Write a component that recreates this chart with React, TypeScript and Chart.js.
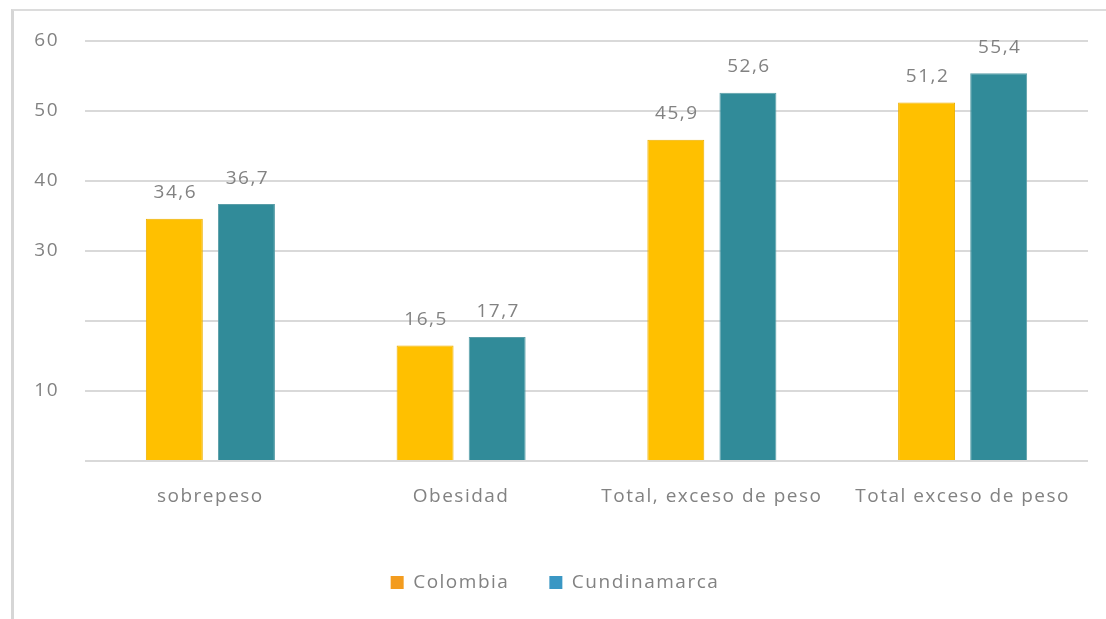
import React, { useEffect, useRef } from "react";
import { Chart, registerables } from "chart.js";

Chart.register(...registerables);

const categories = ["sobrepeso", "Obesidad", "Total, exceso de peso", "Total exceso de peso"];
const colombiaValues = [34.6, 16.5, 45.9, 51.2];
const cundinamarcaValues = [36.7, 17.7, 52.6, 55.4];
const seriesNames = ["Colombia", "Cundinamarca"];
const hiddenTickValues = [0, 20];

const FONT = "'Open Sans', sans-serif";
const FONT_SIZE = 19;
const TEXT_COLOR = "#828282";
const SPACING = "1.5px";

const spacingPlugin = {
  id: "letterSpacing",
  beforeUpdate(chart: any) {
    try { chart.ctx.letterSpacing = SPACING; } catch (e) {}
  },
  beforeDraw(chart: any) {
    try { chart.ctx.letterSpacing = SPACING; } catch (e) {}
  },
};

const valueLabelPlugin = {
  id: "valueLabels",
  afterDatasetsDraw(chart: any) {
    const ctx = chart.ctx;
    ctx.save();
    try { ctx.letterSpacing = SPACING; } catch (e) {}
    ctx.font = `${FONT_SIZE}px ${FONT}`;
    ctx.fillStyle = TEXT_COLOR;
    ctx.textAlign = "center";
    ctx.textBaseline = "middle";
    chart.data.datasets.forEach((ds: any, di: number) => {
      const meta = chart.getDatasetMeta(di);
      meta.data.forEach((bar: any, i: number) => {
        const v = ds.data[i];
        const txt = v.toFixed(1).replace(".", ",");
        ctx.fillText(txt, bar.x + 1, bar.y - 26);
      });
    });
    ctx.restore();
  },
};

export default function App() {
  const ref = useRef<HTMLCanvasElement | null>(null);

  useEffect(() => {
    if (!ref.current) return;
    const chart = new Chart(ref.current, {
      type: "bar",
      data: {
        labels: categories,
        datasets: [
          {
            label: seriesNames[0],
            data: colombiaValues,
            backgroundColor: "#FFC000",
            borderColor: "#EDB000",
            borderWidth: 1,
            barPercentage: 0.79,
            categoryPercentage: 0.575,
          },
          {
            label: seriesNames[1],
            data: cundinamarcaValues,
            backgroundColor: "#318B99",
            borderColor: "#5A9EA8",
            borderWidth: 1,
            barPercentage: 0.79,
            categoryPercentage: 0.575,
          },
        ],
      },
      options: {
        responsive: false,
        animation: false,
        layout: { padding: { top: 41, right: 18, bottom: 17, left: 22 } },
        plugins: {
          tooltip: { enabled: false },
          legend: {
            position: "bottom",
            labels: {
              boxWidth: 13,
              boxHeight: 13,
              padding: 40,
              color: TEXT_COLOR,
              font: { family: FONT, size: FONT_SIZE },
              generateLabels: () => [
                { text: seriesNames[0], fillStyle: "#F39C1F", strokeStyle: "#F39C1F", lineWidth: 0, datasetIndex: 0, hidden: false, fontColor: TEXT_COLOR },
                { text: seriesNames[1], fillStyle: "#3A97C4", strokeStyle: "#3A97C4", lineWidth: 0, datasetIndex: 1, hidden: false, fontColor: TEXT_COLOR },
              ],
            },
          },
        },
        scales: {
          x: {
            grid: { display: false, drawTicks: false },
            border: { display: false },
            ticks: {
              color: TEXT_COLOR,
              font: { family: FONT, size: FONT_SIZE },
              padding: 24,
              autoSkip: false,
              maxRotation: 0,
              minRotation: 0,
            },
            afterFit: (scale: any) => {
              scale.height = 72;
            },
          },
          y: {
            min: 0,
            max: 60,
            grid: { color: "#d9d9d9", lineWidth: 2, drawTicks: false },
            border: { display: false },
            ticks: {
              stepSize: 10,
              color: TEXT_COLOR,
              font: { family: FONT, size: FONT_SIZE },
              padding: 26,
              callback: (v: any) => (hiddenTickValues.includes(Number(v)) ? "" : String(v)),
            },
            afterFit: (scale: any) => {
              scale.width = 63;
            },
          },
        },
      },
      plugins: [spacingPlugin, valueLabelPlugin],
    });
    return () => chart.destroy();
  }, []);

  return (
    <div style={{ position: "fixed", left: 0, top: 0, width: 1106, height: 619, background: "#fff", overflow: "hidden" }}>
      <div
        style={{
          position: "absolute",
          left: 11,
          top: 9,
          width: 1106,
          height: 700,
          borderTop: "2px solid #dcdcdc",
          borderLeft: "3px solid #d6d6d6",
        }}
      />
      <canvas ref={ref} width={1106} height={619} style={{ position: "absolute", left: 0, top: 0 }} />
    </div>
  );
}
